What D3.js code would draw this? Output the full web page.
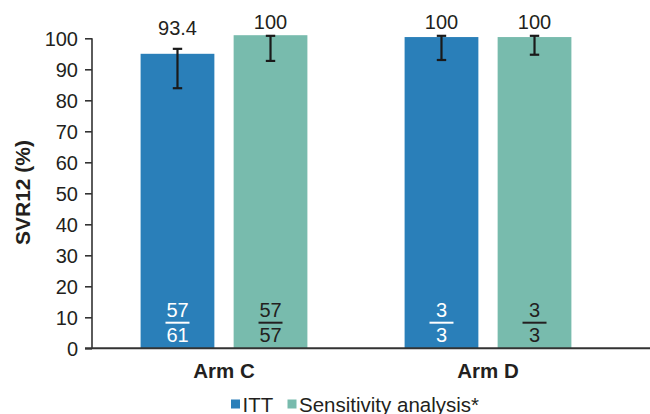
<!DOCTYPE html>
<html>
<head>
<meta charset="utf-8">
<script src="https://cdn.jsdelivr.net/npm/d3@7"></script>
<style>
  html, body { margin: 0; padding: 0; background: #fff; }
  svg { display: block; font-family: "Liberation Sans", Arial, sans-serif; }
</style>
</head>
<body>
<svg id="chart" width="650" height="414"></svg>
<script>
// ---- data ----
const categories = ["Arm C", "Arm D"];
const seriesNames = ["ITT", "Sensitivity analysis*"];
const barValues = [[95.0, 101.0], [100.4, 100.4]];       // drawn bar heights (%)
const valueLabels = [["93.4", "100"], ["100", "100"]];   // printed values
const errLow = [[83.9, 92.7], [93.0, 94.7]];
const errHigh = [[96.6, 100.8], [100.8, 100.8]];
const numerators = [["57", "57"], ["3", "3"]];
const denominators = [["61", "57"], ["3", "3"]];
const yTicks = [0, 10, 20, 30, 40, 50, 60, 70, 80, 90, 100];
const colors = ["#2a7fb9", "#78bbad"];
const fracColors = ["#ffffff", "#231f20"];

// ---- layout ----
const W = 650, H = 414;
const mLeft = 92, mRight = 620, mTop = 38.3, mBottom = 348.3;
const svg = d3.select("#chart");
const textColor = "#231f20";
const fs = 20;

const x0 = d3.scaleBand().domain(categories).range([mLeft, mRight]).padding(0);
const x1 = d3.scaleBand().domain(d3.range(seriesNames.length)).range([-83.4, 83.4]).paddingInner(0.207).paddingOuter(0);
const y = d3.scaleLinear().domain([0, 100]).range([mBottom, mTop]);

// bars
const groups = svg.selectAll("g.grp").data(categories).join("g")
  .attr("class", "grp")
  .attr("transform", d => `translate(${x0(d) + x0.bandwidth() / 2},0)`);

groups.each(function (cat, gi) {
  const g = d3.select(this);
  seriesNames.forEach((s, si) => {
    const bx = x1(si), bw = x1.bandwidth(), cx = bx + bw / 2;
    g.append("rect")
      .attr("x", bx).attr("width", bw)
      .attr("y", y(barValues[gi][si]))
      .attr("height", y(0) - y(barValues[gi][si]))
      .attr("fill", colors[si]);
    // error bar
    const eg = g.append("g").attr("stroke", "#1a1a1a").attr("stroke-width", 2.2);
    eg.append("line").attr("x1", cx).attr("x2", cx).attr("y1", y(errLow[gi][si])).attr("y2", y(errHigh[gi][si]));
    eg.append("line").attr("x1", cx - 4.7).attr("x2", cx + 4.7).attr("y1", y(errLow[gi][si])).attr("y2", y(errLow[gi][si]));
    eg.append("line").attr("x1", cx - 4.7).attr("x2", cx + 4.7).attr("y1", y(errHigh[gi][si])).attr("y2", y(errHigh[gi][si]));
    // value label
    const ly = Math.max(y(errHigh[gi][si]) - 14, y(102.9));
    g.append("text").attr("x", cx).attr("y", ly)
      .attr("text-anchor", "middle").attr("font-size", fs).attr("fill", textColor)
      .text(valueLabels[gi][si]);
    // fraction
    g.append("text").attr("x", cx).attr("y", y(0) - 31.6)
      .attr("text-anchor", "middle").attr("font-size", fs).attr("fill", fracColors[si])
      .text(numerators[gi][si]);
    g.append("line").attr("x1", cx - 12).attr("x2", cx + 12)
      .attr("y1", y(0) - 25.6).attr("y2", y(0) - 25.6)
      .attr("stroke", fracColors[si]).attr("stroke-width", 2);
    g.append("text").attr("x", cx).attr("y", y(0) - 6.6)
      .attr("text-anchor", "middle").attr("font-size", fs).attr("fill", fracColors[si])
      .text(denominators[gi][si]);
  });
});

// y axis
const yAxis = svg.append("g").attr("transform", `translate(${mLeft},0)`)
  .call(d3.axisLeft(y).tickValues(yTicks).tickSize(7).tickPadding(7));
yAxis.select(".domain").attr("stroke", "#333").attr("stroke-width", 1.6).attr("d", `M0,${mTop}V${mBottom}`);
yAxis.selectAll(".tick line").attr("stroke", "#333").attr("stroke-width", 1.6);
yAxis.selectAll(".tick text").attr("font-size", fs).attr("fill", textColor)
  .attr("font-family", "Liberation Sans, Arial, sans-serif").attr("dy", "0.36em");

// x axis line
svg.append("line").attr("x1", mLeft - 7).attr("x2", W).attr("y1", mBottom).attr("y2", mBottom)
  .attr("stroke", "#333").attr("stroke-width", 2);

// x labels
svg.selectAll("text.xl").data(categories).join("text")
  .attr("class", "xl")
  .attr("x", d => x0(d) + x0.bandwidth() / 2)
  .attr("y", 378)
  .attr("text-anchor", "middle").attr("font-size", 20.5).attr("font-weight", "bold").attr("fill", textColor)
  .text(d => d);

// y title
svg.append("text").attr("transform", "translate(30,192.5) rotate(-90)")
  .attr("text-anchor", "middle").attr("font-size", 21).attr("font-weight", "bold").attr("fill", textColor)
  .text("SVR12 (%)");

// legend
const legX = [231, 287.5];
seriesNames.forEach((s, i) => {
  svg.append("rect").attr("x", legX[i]).attr("y", 399.5).attr("width", 9).attr("height", 9).attr("fill", colors[i]);
  svg.append("text").attr("x", legX[i] + 11.5).attr("y", 411.5)
    .attr("font-size", 20.5).attr("fill", textColor).text(s);
});
</script>
</body>
</html>
